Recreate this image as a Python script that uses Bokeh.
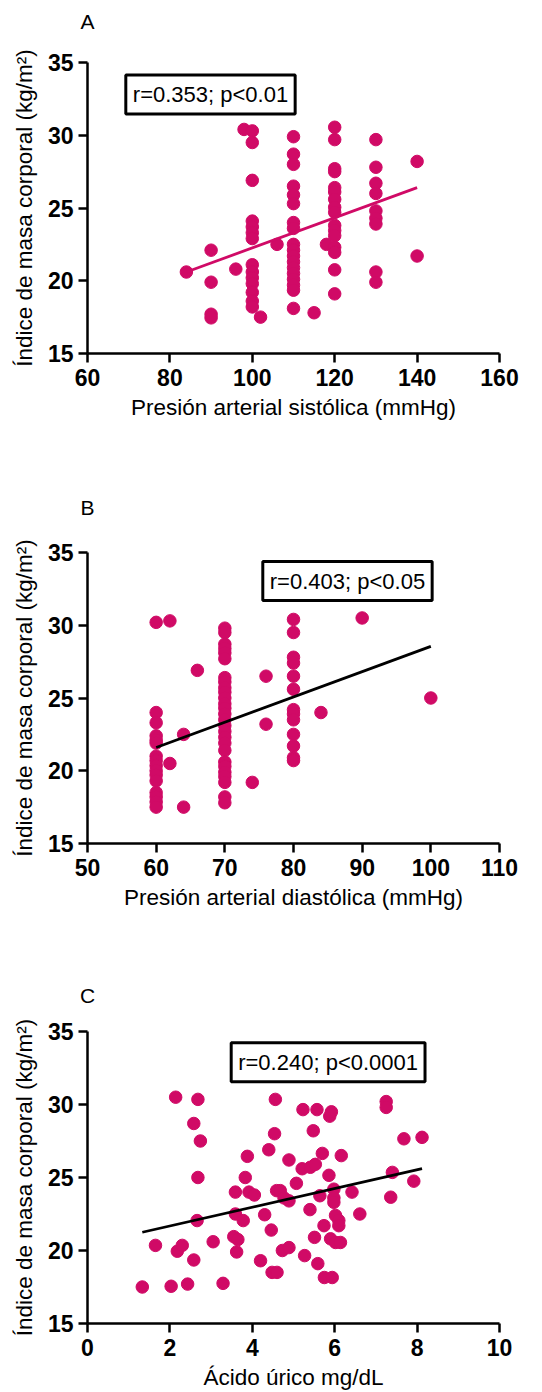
from bokeh.plotting import figure
from bokeh.models import Label, Range1d, FixedTicker, LinearAxis
from bokeh.layouts import column
from bokeh.embed import file_html
from bokeh.resources import INLINE

# ---------------- data ----------------
# Panel A: systolic blood pressure vs BMI
a_x = [84, 90, 90, 90, 90, 96, 98,
       100, 100, 100, 100, 100, 100, 100, 100, 100, 100, 100, 100, 100, 100,
       102, 106,
       110, 110, 110, 110, 110, 110, 110, 110, 110, 110, 110, 110, 110, 110, 110, 110, 110, 110,
       115, 118,
       120, 120, 120, 120, 120, 120, 120, 120, 120, 120, 120, 120, 120, 120, 120, 120,
       130, 130, 130, 130, 130, 130, 130, 130, 130,
       140, 140]
a_y = [20.6, 22.1, 19.9, 17.7, 17.45, 20.8, 30.4,
       30.3, 29.5, 26.9, 24.1, 23.7, 23.3, 22.9, 21.1, 20.6, 20.2, 19.8, 19.2, 18.6, 18.2,
       17.5, 22.5,
       29.9, 28.7, 28.0, 26.5, 25.9, 25.3, 24.0, 23.6, 22.5, 22.1, 21.7, 21.3, 20.9, 20.5, 20.1, 19.7, 19.35, 18.1,
       17.8, 22.5,
       30.55, 29.7, 27.7, 27.5, 26.4, 26.1, 25.6, 25.05, 24.7, 23.8, 23.45, 23.1, 22.3, 21.95, 20.75, 19.1,
       29.7, 27.8, 26.7, 26.0, 24.8, 24.3, 23.9, 20.6, 19.9,
       28.2, 21.7]
a_fit_x = [84, 140]
a_fit_y = [20.6, 26.4]

# Panel B: diastolic blood pressure vs BMI
b_x = ([60] * 16 + [62, 62, 64, 64, 66] + [70] * 27 + [74, 76, 76] + [80] * 13 + [84, 90, 100])
b_y = [30.2, 24.0, 23.3, 22.4, 22.1, 21.9, 21.0, 20.7, 20.35, 20.0, 19.7, 19.3, 18.5, 18.2, 17.85, 17.5,
       30.3, 20.5, 22.5, 17.5, 26.9,
       29.8, 29.5, 28.7, 28.4, 28.1, 27.7, 26.4, 26.1, 25.7, 25.4, 25.0, 24.6, 24.3, 23.9, 23.5, 23.1,
       22.7, 22.3, 21.9, 21.4, 20.6, 20.3, 19.9, 19.6, 19.2, 18.2, 17.8,
       19.2, 26.5, 23.2,
       30.4, 29.5, 27.8, 27.4, 26.5, 25.6, 24.2, 23.9, 23.5, 22.5, 21.7, 20.9, 20.7,
       24.0, 30.5, 25.0]
b_fit_x = [60, 100]
b_fit_y = [21.6, 28.55]

# Panel C: uric acid vs BMI
c_x = [1.33, 1.65, 2.03, 2.14, 2.18, 2.30, 2.43, 2.58, 2.58, 2.66, 2.68, 2.68, 2.74,
       3.05, 3.29, 3.55, 3.59, 3.59, 3.62, 3.65, 3.78, 3.83, 3.88, 3.92, 4.05,
       4.20, 4.30, 4.40, 4.46, 4.48, 4.54, 4.56, 4.59, 4.60, 4.68, 4.73, 4.77, 4.89, 4.89, 4.89,
       5.07, 5.21, 5.23, 5.27, 5.40, 5.41, 5.48, 5.51, 5.53, 5.57, 5.59, 5.64, 5.70, 5.74, 5.75,
       5.86, 5.88, 5.92, 5.94, 5.90, 5.98, 5.98, 5.98, 6.02, 6.02, 6.10, 6.10, 6.14, 6.16,
       6.42, 6.61, 7.25, 7.25, 7.36, 7.40, 7.68, 7.92, 8.12]
c_y = [17.5, 20.35, 17.55, 30.5, 19.95, 20.35, 17.7, 19.35, 28.7, 22.05, 25.0, 30.35, 27.5,
       20.6, 17.75, 20.95, 24.0, 22.5, 19.9, 20.75, 22.05, 25.0, 26.45, 24.0, 23.8,
       19.3, 22.45, 26.9, 21.4, 18.5, 28.0, 30.35, 24.1, 18.5, 24.1, 20.0, 23.6, 20.2, 23.4, 26.2,
       24.6, 25.6, 29.65, 19.65, 22.8, 25.7, 28.2, 20.9, 25.9, 29.65, 19.1, 23.75, 26.65, 21.7, 18.15,
       25.15, 29.2, 29.5, 18.15, 20.8, 24.2, 23.6, 23.3, 22.4, 20.55, 22.05, 21.7, 20.55, 26.5,
       24.0, 22.5, 30.2, 29.8, 23.65, 25.35, 27.65, 24.75, 27.75]
c_fit_x = [1.33, 8.12]
c_fit_y = [21.25, 25.6]

y_ticks = [15, 20, 25, 30, 35]
a_ticks = [60, 80, 100, 120, 140, 160]
b_ticks = [50, 60, 70, 80, 90, 100, 110]
c_ticks = [0, 2, 4, 6, 8, 10]

y_label = "Índice de masa corporal (kg/m²)"
a_label = "Presión arterial sistólica (mmHg)"
b_label = "Presión arterial diastólica (mmHg)"
c_label = "Ácido úrico mg/dL"

a_stat = "r=0.353; p<0.01"
b_stat = "r=0.403; p<0.05"
c_stat = "r=0.240; p<0.0001"

MAGENTA = "#D00A66"
FONT = "Liberation Sans"


def make_panel(height, top, bottom, xr, xticks, xlabel, xs, ys, fx, fy, line_color,
               letter, letter_standoff, stat, stat_pos):
    p = figure(width=542, height=height, x_range=Range1d(*xr), y_range=Range1d(15, 35),
               output_backend="svg", toolbar_location=None,
               min_border_left=87, min_border_right=43,
               min_border_top=top, min_border_bottom=bottom)
    p.outline_line_color = None
    p.xgrid.visible = False
    p.ygrid.visible = False
    p.background_fill_color = "white"
    p.border_fill_color = "white"

    p.xaxis.ticker = FixedTicker(ticks=xticks)
    p.yaxis.ticker = FixedTicker(ticks=y_ticks)
    for ax in (p.xaxis, p.yaxis):
        ax.axis_line_width = 2.5
        ax.axis_line_color = "black"
        ax.major_tick_line_width = 2.5
        ax.major_tick_line_color = "black"
        ax.major_tick_in = 0
        ax.major_tick_out = 9
        ax.minor_tick_line_color = None
        ax.major_label_text_font = FONT
        ax.major_label_text_font_style = "bold"
        ax.major_label_text_font_size = "23px"
        ax.major_label_text_color = "black"
        ax.axis_label_text_font = FONT
        ax.axis_label_text_font_style = "normal"
        ax.axis_label_text_font_size = "22.5px"
        ax.axis_label_text_color = "black"
    p.xaxis.major_label_standoff = 6
    p.yaxis.major_label_standoff = 5
    p.xaxis.axis_label_standoff = 6
    p.yaxis.axis_label_standoff = 8
    p.xaxis.axis_label = xlabel
    p.yaxis.axis_label = y_label

    # panel letter: a bare axis above the frame whose only tick label is the letter
    letter_axis = LinearAxis(ticker=FixedTicker(ticks=[xr[0]]),
                             major_label_overrides={xr[0]: letter},
                             axis_line_color=None, major_tick_line_color=None,
                             minor_tick_line_color=None, major_tick_in=0, major_tick_out=0,
                             major_label_standoff=letter_standoff,
                             major_label_text_font=FONT, major_label_text_font_size="21px",
                             major_label_text_font_style="normal",
                             major_label_text_color="black")
    p.add_layout(letter_axis, "above")

    p.scatter(xs, ys, size=12.5, color=MAGENTA, line_color=MAGENTA)
    p.line(fx, fy, line_color=line_color, line_width=2.8)

    p.add_layout(Label(x=stat_pos[0], y=stat_pos[1], text=stat, text_font=FONT,
                       text_font_size="22px", text_align="center", text_baseline="middle",
                       text_color="black", background_fill_color="white",
                       border_line_color="black", border_line_width=3, padding=7))
    return p


pA = make_panel(470, 62, 117, (60, 160), a_ticks, a_label, a_x, a_y, a_fit_x, a_fit_y, MAGENTA,
                "A", 30, a_stat, (89.85, 32.8))
pB = make_panel(480, 82, 107, (50, 110), b_ticks, b_label, b_x, b_y, b_fit_x, b_fit_y, "black",
                "B", 34, b_stat, (87.86, 33.04))
pC = make_panel(442, 81, 69, (0, 10), c_ticks, c_label, c_x, c_y, c_fit_x, c_fit_y, "black",
                "C", 25, c_stat, (5.84, 32.9))

layout = column(pA, pB, pC, spacing=0)
open("out.html", "w").write(file_html(layout, INLINE))
